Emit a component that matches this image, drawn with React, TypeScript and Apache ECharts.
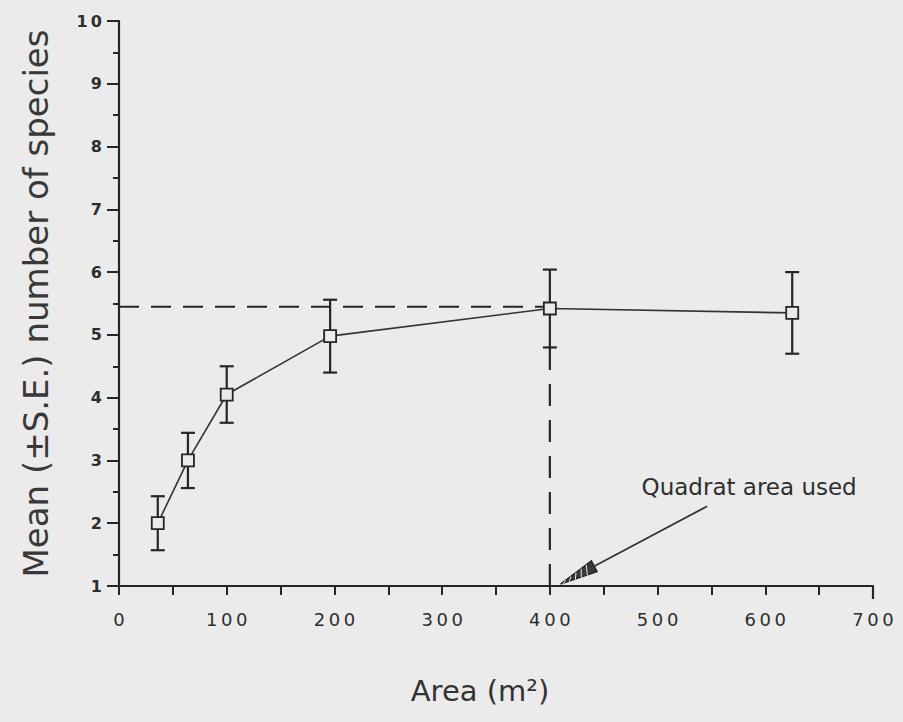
import React, { useEffect, useRef } from "react";
import * as echarts from "echarts";

// Quadrat areas (m²) and mean (± S.E.) number of species
const areas = [36, 64, 100, 196, 400, 625];
const meanSpecies = [2.0, 3.0, 4.05, 4.98, 5.42, 5.35];
const seSpecies = [0.43, 0.44, 0.45, 0.58, 0.62, 0.65];
const asymptoteLevel = 5.45;
const quadratAreaUsed = 400;
const annotationText = "Quadrat area used";
const annotationTextAt = [585, 2.57];
const arrowFrom = [546, 2.27];
const arrowTo = [410, 1.03];

const INK = "#262626";
const BG = "#ebebeb";
const spaced = (s: string) => s.split("").join("\u2009");

export default function App() {
  const ref = useRef<HTMLDivElement>(null);

  useEffect(() => {
    if (!ref.current) return;
    const chart = echarts.init(ref.current, null, { renderer: "svg" });

    const points = areas.map((a, i) => [a, meanSpecies[i]]);
    const errorData = areas.map((a, i) => [a, meanSpecies[i] - seSpecies[i], meanSpecies[i] + seSpecies[i]]);
    const i400 = areas.indexOf(quadratAreaUsed);

    chart.setOption({
      animation: false,
      backgroundColor: BG,
      grid: { left: 119, right: 30, top: 21, bottom: 136 },
      xAxis: {
        type: "value",
        min: 0,
        max: 700,
        interval: 100,
        name: "Area (m²)",
        nameLocation: "middle",
        nameGap: 90,
        nameTextStyle: { fontFamily: "DejaVu Sans", fontSize: 29, color: "#333", padding: [0, 32, 0, 0] },
        axisLine: { show: true, lineStyle: { color: INK, width: 2.2 } },
        axisTick: { show: true, length: 9, lineStyle: { color: INK, width: 2 } },
        minorTick: { show: true, splitNumber: 2, length: 9, lineStyle: { color: INK, width: 2 } },
        splitLine: { show: false },
        axisLabel: {
          margin: 24,
          fontFamily: "DejaVu Sans",
          fontSize: 18,
          color: "#2e2e2e",
          formatter: (v: number) => spaced(String(v)),
        },
      },
      yAxis: {
        type: "value",
        min: 1,
        max: 10,
        interval: 1,
        name: "Mean (±S.E.) number of species",
        nameLocation: "middle",
        nameGap: 66,
        nameTextStyle: { fontFamily: "DejaVu Sans", fontSize: 34, color: "#383838" },
        axisLine: { show: true, lineStyle: { color: INK, width: 2.2 } },
        axisTick: { show: true, length: 12, lineStyle: { color: INK, width: 2 } },
        minorTick: { show: true, splitNumber: 2, length: 6, lineStyle: { color: INK, width: 2 } },
        splitLine: { show: false },
        axisLabel: {
          margin: 17,
          fontFamily: "DejaVu Sans",
          fontSize: 16,
          fontWeight: "bold",
          color: "#2e2e2e",
          formatter: (v: number) => spaced(String(v)),
        },
      },
      series: [
        {
          type: "line",
          data: [[0, asymptoteLevel], [quadratAreaUsed, asymptoteLevel]],
          showSymbol: false,
          symbol: "none",
          lineStyle: { color: INK, width: 2, type: [20, 12] },
          z: 2,
        },
        {
          type: "line",
          data: [[quadratAreaUsed, 1], [quadratAreaUsed, meanSpecies[i400] - seSpecies[i400]]],
          showSymbol: false,
          symbol: "none",
          lineStyle: { color: INK, width: 2.2, type: [22, 14] },
          z: 2,
        },
        {
          type: "custom",
          data: errorData,
          z: 3,
          renderItem: (params: any, api: any) => {
            const x = api.value(0);
            const lo = api.coord([x, api.value(1)]);
            const hi = api.coord([x, api.value(2)]);
            const hw = 7;
            const style = { stroke: INK, lineWidth: 2.2 };
            return {
              type: "group",
              children: [
                { type: "line", shape: { x1: lo[0], y1: lo[1], x2: hi[0], y2: hi[1] }, style },
                { type: "line", shape: { x1: lo[0] - hw, y1: lo[1], x2: lo[0] + hw, y2: lo[1] }, style },
                { type: "line", shape: { x1: hi[0] - hw, y1: hi[1], x2: hi[0] + hw, y2: hi[1] }, style },
              ],
            };
          },
        },
        {
          type: "line",
          data: points,
          symbol: "rect",
          symbolSize: 12,
          showSymbol: true,
          itemStyle: { color: BG, borderColor: INK, borderWidth: 1.8 },
          lineStyle: { color: "#333", width: 1.6 },
          z: 5,
        },
      ],
    });

    const tip = chart.convertToPixel({ gridIndex: 0 }, arrowTo) as number[];
    const tail = chart.convertToPixel({ gridIndex: 0 }, arrowFrom) as number[];
    const txt = chart.convertToPixel({ gridIndex: 0 }, annotationTextAt) as number[];
    const endTick = chart.convertToPixel({ gridIndex: 0 }, [700, 1]) as number[];
    const dx = tip[0] - tail[0];
    const dy = tip[1] - tail[1];
    const len = Math.hypot(dx, dy);
    const ux = dx / len;
    const uy = dy / len;
    const headLen = 38;
    const headHalf = 6;
    const bx = tip[0] - ux * headLen;
    const by = tip[1] - uy * headLen;
    const px = -uy;
    const py = ux;

    const hatch: any[] = [];
    for (let k = 1; k < 6; k++) {
      const t = k / 6;
      const cx = tip[0] - ux * headLen * t;
      const cy = tip[1] - uy * headLen * t;
      const w = headHalf * t;
      hatch.push({
        type: "line",
        shape: { x1: cx + px * w, y1: cy + py * w, x2: cx - px * w + ux * 4, y2: cy - py * w + uy * 4 },
        style: { stroke: BG, lineWidth: 1 },
        z: 20,
      });
    }

    chart.setOption({
      graphic: [
        {
          type: "line",
          shape: { x1: tail[0], y1: tail[1], x2: bx, y2: by },
          style: { stroke: "#333", lineWidth: 1.8 },
        },
        {
          type: "polygon",
          shape: {
            points: [
              [tip[0], tip[1]],
              [bx + px * headHalf, by + py * headHalf],
              [bx - px * headHalf, by - py * headHalf],
            ],
          },
          style: { fill: "#3a3a3a", stroke: INK, lineWidth: 1.5 },
          z: 10,
        },
        ...hatch,
        {
          type: "line",
          shape: { x1: endTick[0], y1: endTick[1], x2: endTick[0], y2: endTick[1] + 13 },
          style: { stroke: INK, lineWidth: 2.2 },
        },
        {
          type: "text",
          x: txt[0],
          y: txt[1],
          style: {
            text: annotationText,
            fontFamily: "DejaVu Sans",
            fontSize: 23,
            fill: "#2e2e2e",
            align: "center",
            verticalAlign: "middle",
          },
        },
      ],
    });

    return () => chart.dispose();
  }, []);

  return <div ref={ref} style={{ position: "fixed", left: 0, top: 0, width: 903, height: 722 }} />;
}
